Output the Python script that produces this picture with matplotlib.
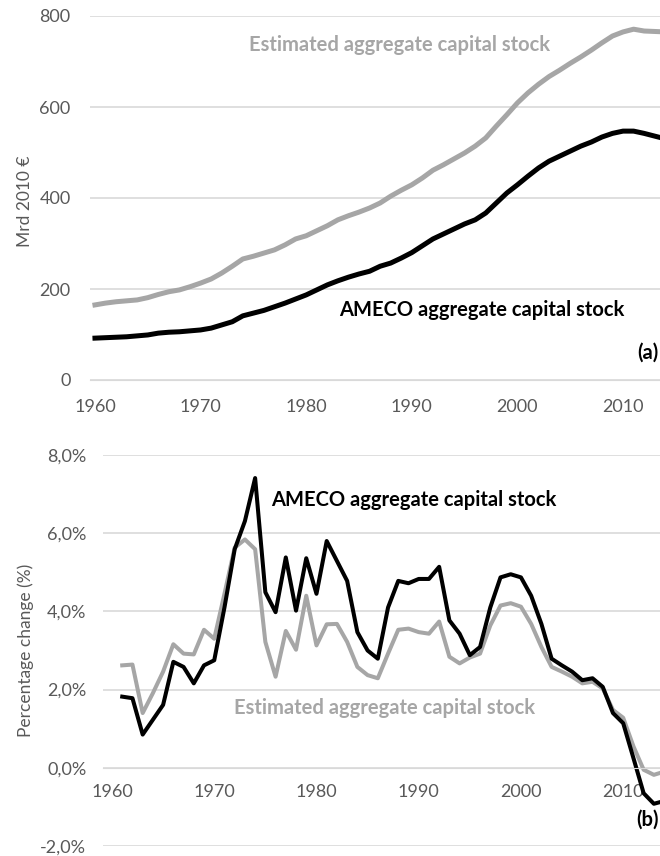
import matplotlib
matplotlib.use("Agg")
import matplotlib.pyplot as plt
from matplotlib.ticker import FuncFormatter

plt.rcParams['font.family'] = ['Lato', 'DejaVu Sans']

# capital stock levels, Mrd 2010 EUR
years = list(range(1960, 2015))
estimated = [165, 169, 172, 174, 176, 181, 188, 194, 198, 205,
             213, 222, 235, 250, 266, 272, 279, 286, 297, 310,
             317, 328, 339, 352, 361, 369, 378, 389, 404, 417,
             429, 444, 461, 473, 486, 499, 514, 532, 558, 583,
             609, 631, 650, 667, 681, 696, 710, 725, 741, 756,
             765, 771, 767, 766, 765]
ameco = [92, 93, 94, 95, 97, 99, 103, 105, 106, 108,
         110, 114, 121, 128, 141, 147, 153, 161, 169, 178,
         187, 198, 209, 218, 226, 233, 239, 250, 257, 268,
         280, 295, 310, 321, 332, 343, 352, 367, 389, 411,
         429, 448, 466, 481, 492, 503, 514, 523, 534, 542,
         547, 547, 542, 536, 530]

# yearly percentage change
years_g = list(range(1961, 2015))
ameco_g = [1.82, 1.78, 0.85, 1.23, 1.61, 2.71, 2.58, 2.16, 2.62, 2.75,
           4.10, 5.59, 6.31, 7.41, 4.49, 3.98, 5.38, 4.02, 5.36, 4.45,
           5.80, 5.29, 4.78, 3.47, 3.00, 2.79, 4.10, 4.78, 4.72, 4.83,
           4.83, 5.14, 3.77, 3.43, 2.88, 3.09, 4.10, 4.87, 4.95, 4.87,
           4.40, 3.68, 2.79, 2.62, 2.46, 2.24, 2.29, 2.07, 1.40, 1.14,
           0.25, -0.65, -0.92, -0.85]
estimated_g = [2.62, 2.64, 1.40, 1.91, 2.46, 3.16, 2.92, 2.90, 3.53, 3.30,
               4.45, 5.63, 5.84, 5.59, 3.22, 2.33, 3.50, 3.02, 4.40, 3.13,
               3.67, 3.68, 3.22, 2.58, 2.37, 2.29, 2.92, 3.53, 3.56, 3.47,
               3.43, 3.74, 2.84, 2.67, 2.82, 2.92, 3.64, 4.15, 4.21, 4.12,
               3.68, 3.09, 2.58, 2.46, 2.33, 2.16, 2.20, 2.03, 1.48, 1.28,
               0.55, -0.05, -0.18, -0.10]

GREY = '#a6a6a6'
TXT = '#595959'
GRID = '#d9d9d9'
W, H = 660, 856
LBL = 14.5  # series labels

fig = plt.figure(figsize=(6.6, 8.56), dpi=100)


def style(ax):
    for s in ['top', 'right', 'left']:
        ax.spines[s].set_visible(False)
    ax.spines['bottom'].set_color(GRID)
    ax.grid(axis='y', color=GRID, lw=1.2)
    ax.set_axisbelow(True)
    ax.tick_params(length=0, labelsize=13, labelcolor=TXT)
    ax.set_xticks(range(1960, 2011, 10))


# (a) levels
ax1 = fig.add_axes([90 / W, 1 - 380 / H, 1 - 90 / W, 364 / H])
style(ax1)
ax1.plot(years, estimated, color=GREY, lw=3.6)
ax1.plot(years, ameco, color='black', lw=3.6)
ax1.set_xlim(1959.53, 2013.5)
ax1.set_ylim(0, 800)
ax1.set_yticks(range(0, 801, 200))
ax1.tick_params(axis='x', pad=14)
ax1.tick_params(axis='y', pad=14)
ax1.text(1988.8, 736, 'Estimated aggregate capital stock', color=GREY,
         fontsize=LBL, fontweight='bold', ha='center', va='center')
ax1.text(1996.6, 154, 'AMECO aggregate capital stock', color='black',
         fontsize=LBL, fontweight='bold', ha='center', va='center')
ax1.text(0.998, 60, '(a)', transform=ax1.get_yaxis_transform(),
         fontsize=LBL, fontweight='bold', ha='right', va='center')

# (b) growth rates
ax2 = fig.add_axes([103 / W, 1 - 846 / H, 1 - 103 / W, 391 / H])
style(ax2)
ax2.plot(years_g, estimated_g, color=GREY, lw=2.9)
ax2.plot(years_g, ameco_g, color='black', lw=2.9)
ax2.set_xlim(1959.12, 2013.6)
ax2.set_ylim(-2, 8)
ax2.set_yticks(range(-2, 9, 2))
ax2.yaxis.set_major_formatter(FuncFormatter(lambda v, p: f'{v:.1f}%'.replace('.', ',')))
ax2.spines['bottom'].set_position(('data', 0))
ax2.tick_params(axis='x', pad=12)
ax2.tick_params(axis='y', pad=12)
ax2.text(1989.55, 6.85, 'AMECO aggregate capital stock', color='black',
         fontsize=LBL, fontweight='bold', ha='center', va='center')
ax2.text(1986.7, 1.53, 'Estimated aggregate capital stock', color=GREY,
         fontsize=LBL, fontweight='bold', ha='center', va='center')
ax2.text(0.998, -1.33, '(b)', transform=ax2.get_yaxis_transform(),
         fontsize=LBL, fontweight='bold', ha='right', va='center')

fig.text(25 / W, 1 - 201 / H, 'Mrd 2010 €', rotation=90, color=TXT,
         fontsize=12.5, ha='center', va='center')
fig.text(26 / W, 1 - 650 / H, 'Percentage change (%)', rotation=90, color=TXT,
         fontsize=12.5, ha='center', va='center')

fig.savefig('out.png', dpi=100)
